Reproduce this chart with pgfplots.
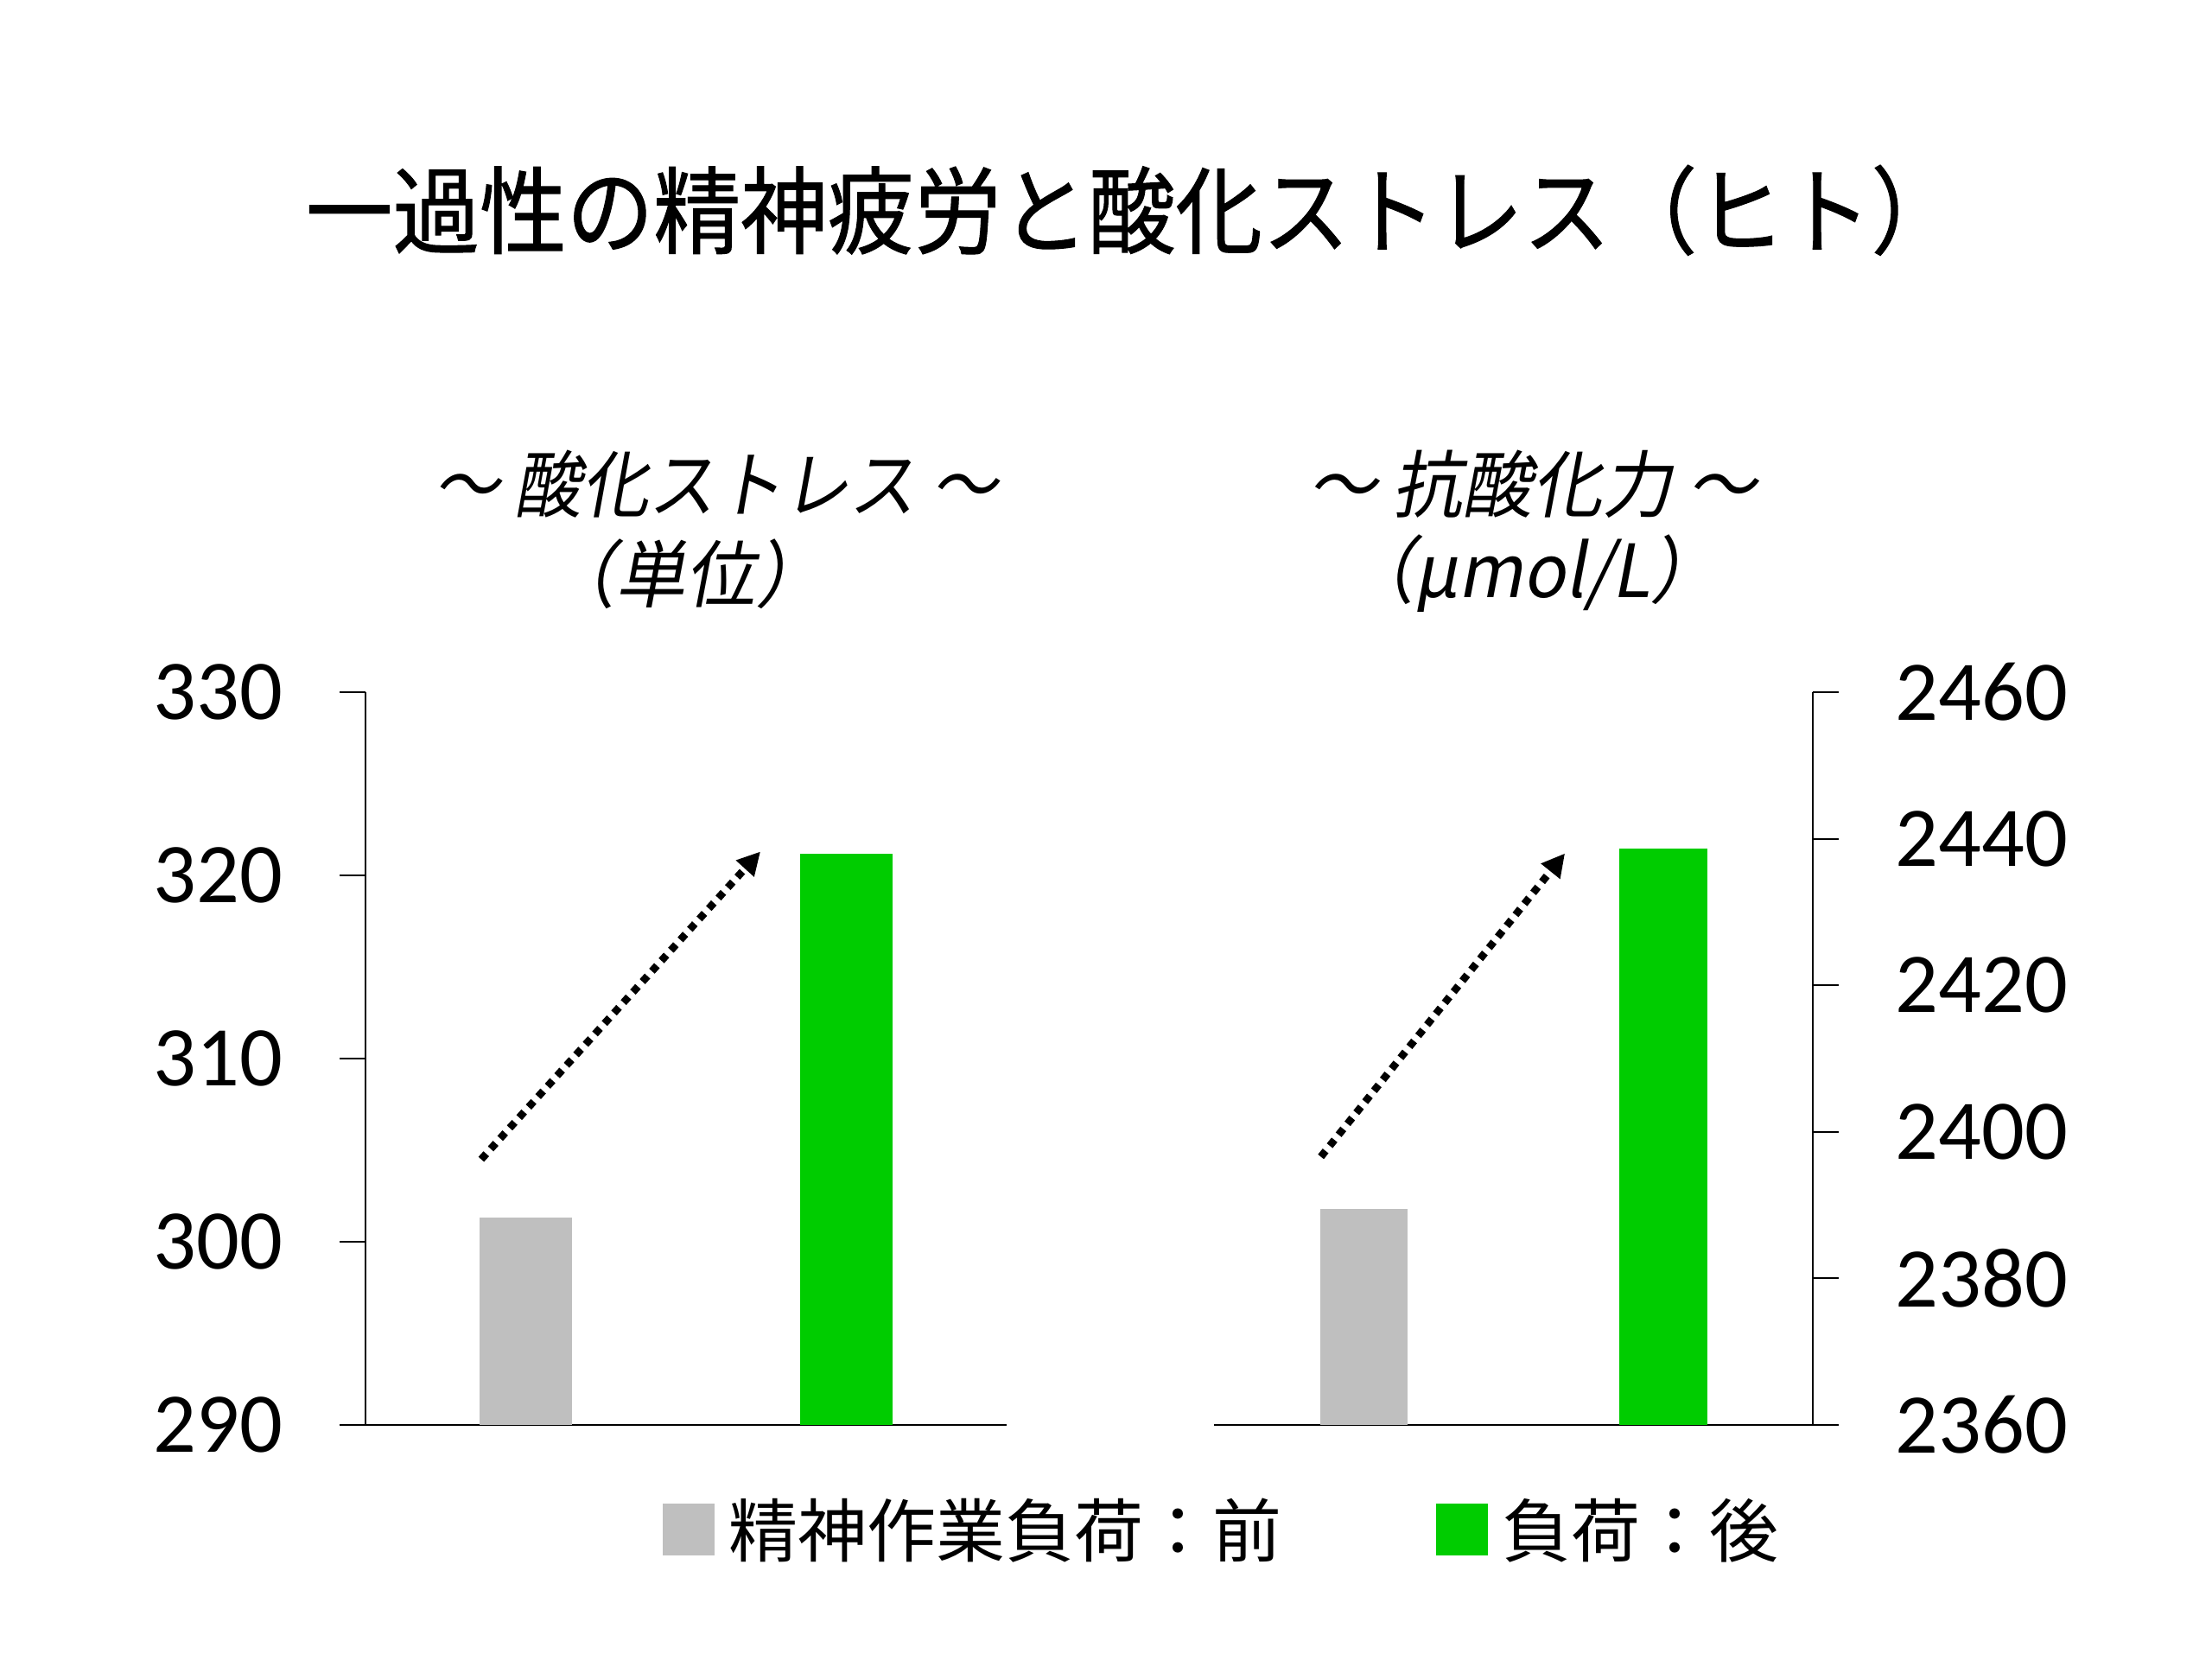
\documentclass[border=0pt]{standalone}
\usepackage{fontspec}
\usepackage{graphicx}
\usepackage{pgfplots}
\pgfplotsset{compat=1.18}
\usetikzlibrary{arrows.meta}
\setmainfont{Carlito}
\newfontfamily\jp{Noto Sans CJK JP}
\newfontfamily\jpb[FakeBold=1]{Noto Sans CJK JP}
\newfontfamily\jpit[FakeSlant=0.2]{Noto Sans CJK JP}
\definecolor{bargray}{RGB}{191,191,191}
\definecolor{bargreen}{RGB}{0,204,0}
\tikzset{myarrow/.style={line width=2.6pt, dash pattern=on 2.6pt off 2.3pt, -{Triangle[length=8pt,width=8pt]}}}
\pgfplotsset{
  mybase/.style={
    scale only axis, height=254.4pt, anchor=south west,
    ybar, bar shift=0pt,
    xmin=0, xmax=2, xtick=\empty,
    tick align=outside, major tick length=9pt,
    axis line style={line width=0.6pt, black},
    major tick style={line width=0.6pt, black},
    ticklabel style={font=\fontsize{29.5}{29.5}\selectfont, inner sep=0pt},
    /pgf/number format/assume math mode=true,
    /pgf/number format/1000 sep={},
  },
}
\begin{document}
\begin{tikzpicture}
\path[use as bounding box] (0pt,0pt) rectangle (768pt,576pt);
% left axis
\begin{axis}[mybase, at={(126.9pt,81.3pt)}, width=222.6pt,
  axis x line*=bottom, axis y line*=left,
  ymin=290, ymax=330, ytick={290,300,310,320,330},
  yticklabel style={anchor=east, xshift=-19.5pt},
  bar width=0.286,
  legend columns=2,
  legend style={draw=none, fill=none, inner sep=0pt, outer sep=0pt,
    at={(axis description cs:0.4632,-0.1427)}, anchor=west,
    font=\jp\fontsize{24}{24}\selectfont,
    nodes={inner sep=0pt, outer sep=0pt},
    /tikz/every odd column/.append style={column sep=5pt}},
  legend image code/.code={\fill[#1,draw=none] (0pt,-9pt) rectangle (18pt,9pt);},
]
\addplot[fill=bargray, draw=none] coordinates {(0.5,301.3)};
\addlegendentry{\makebox[245.6pt][l]{精神作業負荷：前}}
\addplot[fill=bargreen, draw=none] coordinates {(1.5,321.2)};
\addlegendentry{負荷：後}
\draw[myarrow] (axis cs:0.361,304.5) -- (axis cs:1.232,321.3);
\end{axis}
% right axis
\begin{axis}[mybase, at={(421.5pt,81.3pt)}, width=207.9pt,
  axis x line*=bottom, axis y line*=right,
  ymin=2360, ymax=2460, ytick={2360,2380,2400,2420,2440,2460},
  yticklabel style={anchor=west, xshift=19.5pt},
  bar width=0.293,
]
\addplot[fill=bargray, draw=none] coordinates {(0.5,2389.5)};
\addplot[fill=bargreen, draw=none] coordinates {(1.5,2438.7)};
\draw[myarrow] (axis cs:0.357,2396.6) -- (axis cs:1.172,2438);
\end{axis}
% titles
\node at (393pt,503pt) {\scalebox{0.915}[1]{\jpb\fontsize{33}{33}\selectfont 一過性の精神疲労と酸化ストレス（ヒト）}};
\node at (248.4pt,408pt) {\scalebox{0.91}[1]{\jpit\fontsize{25.5}{25.5}\selectfont ～ 酸化ストレス ～}};
\node at (238pt,376.8pt) {\scalebox{0.95}[1]{\jpit\fontsize{25.5}{25.5}\selectfont （単位）}};
\node at (532pt,408pt) {\scalebox{0.95}[1]{\jpit\fontsize{25.5}{25.5}\selectfont ～ 抗酸化力 ～}};
\node at (532pt,376.8pt) {\scalebox{0.95}[1]{\jpit\fontsize{25.5}{25.5}\selectfont （μmol/L）}};
\end{tikzpicture}
\end{document}
